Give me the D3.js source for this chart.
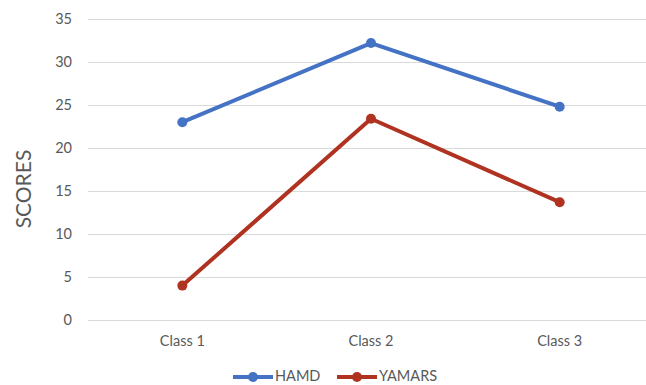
<!DOCTYPE html>
<html>
<head>
<meta charset="utf-8">
<script src="https://cdn.jsdelivr.net/npm/d3@7"></script>
<style>
  html, body { margin: 0; padding: 0; background: #fff; }
  svg { display: block; font-family: Lato, "Open Sans", sans-serif; }
</style>
</head>
<body>
<svg id="chart" width="646" height="385"></svg>
<script>
// Scores per class for each scale
const categories = ["Class 1", "Class 2", "Class 3"];
const hamd = [23.0, 32.2, 24.8];
const yamars = [4.0, 23.4, 13.7];
const yTicks = [0, 5, 10, 15, 20, 25, 30, 35];
const seriesNames = ["HAMD", "YAMARS"];

const colors = { HAMD: "#4472C4", YAMARS: "#B03221" };
const series = [
  { name: seriesNames[0], values: hamd },
  { name: seriesNames[1], values: yamars }
];

const svg = d3.select("#chart");

const x = d3.scaleBand().domain(categories).range([88, 654]);
const y = d3.scaleLinear().domain([0, 35]).range([320, 19]);

// Horizontal gridlines
svg.append("g")
  .selectAll("line")
  .data(yTicks)
  .join("line")
  .attr("x1", 88).attr("x2", 646)
  .attr("y1", d => Math.round(y(d)) + 0.5)
  .attr("y2", d => Math.round(y(d)) + 0.5)
  .attr("stroke", "#d9d9d9")
  .attr("stroke-width", 1);

// Y tick labels
const yAxis = d3.axisLeft(y).tickValues(yTicks).tickSize(0).tickPadding(0);
svg.append("g")
  .attr("transform", "translate(72,0)")
  .call(yAxis)
  .call(g => g.select(".domain").remove())
  .call(g => g.selectAll("text")
    .attr("fill", "#595959")
    .style("font-size", "14.5px")
    .style("font-family", "Lato, sans-serif"));

// X category labels
const xAxis = d3.axisBottom(x).tickSize(0).tickPadding(0);
svg.append("g")
  .attr("transform", "translate(0,336)")
  .call(xAxis)
  .call(g => g.select(".domain").remove())
  .call(g => g.selectAll("text")
    .attr("fill", "#595959")
    .style("font-size", "14.5px")
    .style("font-family", "Lato, sans-serif"));

// Y axis title
svg.append("text")
  .attr("transform", "translate(31,189) rotate(-90)")
  .attr("text-anchor", "middle")
  .attr("fill", "#595959")
  .style("font-size", "21px")
  .text("SCORES");

const cx = c => x(c) + x.bandwidth() / 2;

const line = d3.line()
  .x((d, i) => cx(categories[i]))
  .y(d => y(d));

const sg = svg.append("g")
  .selectAll("g")
  .data(series)
  .join("g");

sg.append("path")
  .attr("d", d => line(d.values))
  .attr("fill", "none")
  .attr("stroke", d => colors[d.name])
  .attr("stroke-width", 4)
  .attr("stroke-linejoin", "round")
  .attr("stroke-linecap", "round");

sg.selectAll("circle")
  .data(d => d.values.map((v, i) => ({ v, i, name: d.name })))
  .join("circle")
  .attr("cx", d => cx(categories[d.i]))
  .attr("cy", d => y(d.v))
  .attr("r", 5)
  .attr("fill", d => colors[d.name]);

// Legend
const legendItems = [
  { name: seriesNames[0], x: 233 },
  { name: seriesNames[1], x: 337 }
];
const lg = svg.append("g")
  .selectAll("g")
  .data(legendItems)
  .join("g")
  .attr("transform", d => `translate(${d.x},377)`);

lg.append("line")
  .attr("x1", 0).attr("x2", 40)
  .attr("y1", 0).attr("y2", 0)
  .attr("stroke", d => colors[d.name])
  .attr("stroke-width", 4);
lg.append("circle")
  .attr("cx", 20).attr("cy", 0).attr("r", 5)
  .attr("fill", d => colors[d.name]);
lg.append("text")
  .attr("x", 42).attr("y", 4)
  .attr("fill", "#595959")
  .style("font-size", "14.5px")
  .text(d => d.name);
</script>
</body>
</html>
